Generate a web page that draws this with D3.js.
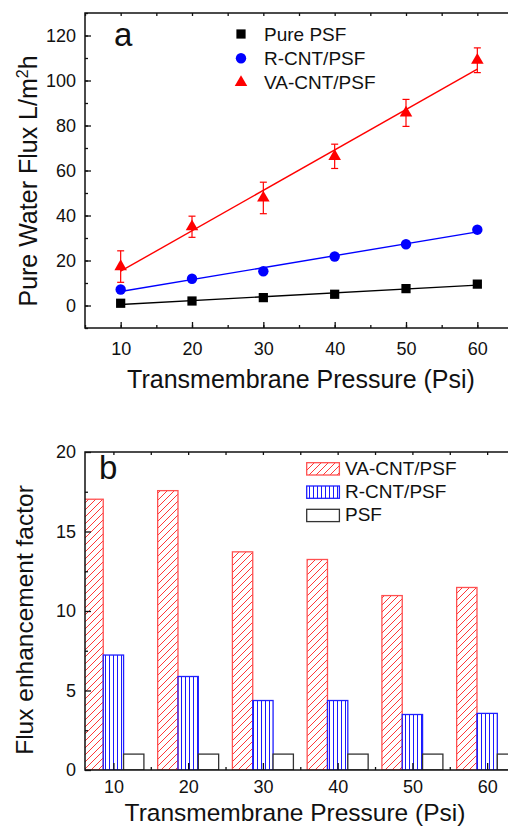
<!DOCTYPE html>
<html>
<head>
<meta charset="utf-8">
<script src="https://cdn.jsdelivr.net/npm/d3@7"></script>
<style>
  body { margin: 0; background: #fff; }
  svg { display: block; font-family: "Liberation Sans", Arial, sans-serif; }
</style>
</head>
<body>
<div id="chart"></div>
<script>
var width = 508,
    height = 829;

// panel a: pure water flux vs pressure
var pressures = [10, 20, 30, 40, 50, 60];
var purePSF = [1, 2, 3.5, 5, 7.5, 9.5];
var rCNT = [7.1, 11.9, 15.2, 21.8, 27.2, 33.7];
var vaCNT = [17.3, 35, 47.8, 66.3, 85.6, 109];
var vaErr = [7, 4.7, 7, 5.4, 6, 5.5];
var fluxTicks = [0, 20, 40, 60, 80, 100, 120];

// panel b: flux enhancement factor
var vaFactor = [17.03, 17.57, 13.72, 13.24, 10.97, 11.48];
var rFactor = [7.23, 5.88, 4.37, 4.37, 3.49, 3.56];
var psfFactor = [1, 1, 1, 1, 1, 1];
var factorTicks = [0, 5, 10, 15, 20];

var svg = d3.select("#chart").append("svg")
    .attr("width", width)
    .attr("height", height);

var defs = svg.append("defs");

var diag = defs.append("pattern")
    .attr("id", "diag")
    .attr("patternUnits", "userSpaceOnUse")
    .attr("width", 7).attr("height", 7);
diag.append("path")
    .attr("d", "M-1,8 L8,-1 M-1,1 L1,-1 M6,8 L8,6")
    .attr("stroke", "#ff2020").attr("stroke-width", 0.9);

var vert = defs.append("pattern")
    .attr("id", "vert")
    .attr("patternUnits", "userSpaceOnUse")
    .attr("width", 4).attr("height", 4);
vert.append("rect")
    .attr("x", 1).attr("y", 0).attr("width", 1).attr("height", 4)
    .attr("fill", "#1a1aff");

// simple least squares fit for the straight lines
function fit(xs, ys) {
    var mx = d3.mean(xs), my = d3.mean(ys);
    var sxy = d3.sum(xs, function(x, i) { return (x - mx) * (ys[i] - my); });
    var sxx = d3.sum(xs, function(x) { return (x - mx) * (x - mx); });
    var b = sxy / sxx;
    return function(x) { return my + b * (x - mx); };
}

function styleAxis(g) {
    g.select(".domain").remove();
    g.selectAll("line").attr("stroke", "#111").attr("stroke-width", 1.3);
    g.selectAll("text").attr("fill", "#111").style("font-size", "18px");
}

/* ---------- panel a ---------- */
var a = { left: 85, top: 13, bottom: 328, right: 513 };

var xA = d3.scaleLinear().domain([5, 65]).range([a.left, a.right]);
var yA = d3.scaleLinear().domain([-10, 130]).range([a.bottom, a.top]);

var gA = svg.append("g");

gA.append("g")
    .attr("transform", "translate(0," + a.bottom + ")")
    .call(d3.axisBottom(xA).tickValues(d3.range(5, 66, 5)).tickSize(-3).tickFormat(""))
    .call(styleAxis);
gA.append("g")
    .attr("transform", "translate(0," + a.bottom + ")")
    .call(d3.axisBottom(xA).tickValues(pressures).tickSize(-6).tickPadding(14))
    .call(styleAxis);
gA.append("g")
    .attr("transform", "translate(0," + a.top + ")")
    .call(d3.axisTop(xA).tickValues(d3.range(5, 66, 5)).tickSize(-3).tickFormat(""))
    .call(styleAxis);
gA.append("g")
    .attr("transform", "translate(" + a.left + ",0)")
    .call(d3.axisLeft(yA).tickValues(d3.range(-10, 131, 10)).tickSize(-3).tickFormat(""))
    .call(styleAxis);
gA.append("g")
    .attr("transform", "translate(" + a.left + ",0)")
    .call(d3.axisLeft(yA).tickValues(fluxTicks).tickSize(-6).tickPadding(9))
    .call(styleAxis);

gA.append("rect")
    .attr("x", a.left).attr("y", a.top)
    .attr("width", a.right - a.left).attr("height", a.bottom - a.top)
    .attr("fill", "none").attr("stroke", "#111").attr("stroke-width", 1.5);

var seriesA = [
    { name: "Pure PSF", values: purePSF, color: "#000", symbol: d3.symbolSquare, size: 85 },
    { name: "R-CNT/PSF", values: rCNT, color: "#0000ff", symbol: d3.symbolCircle, size: 85 },
    { name: "VA-CNT/PSF", values: vaCNT, color: "#ff0000", symbol: d3.symbolTriangle, size: 68 }
];

seriesA.forEach(function(s) {
    var f = fit(pressures, s.values);
    gA.append("line")
        .attr("x1", xA(10)).attr("y1", yA(f(10)))
        .attr("x2", xA(60)).attr("y2", yA(f(60)))
        .attr("stroke", s.color).attr("stroke-width", 1.4);
});

// error bars on VA-CNT/PSF
var errG = gA.append("g").attr("stroke", "#ff0000").attr("stroke-width", 1.2);
pressures.forEach(function(p, i) {
    var x = xA(p), y1 = yA(vaCNT[i] - vaErr[i]), y2 = yA(vaCNT[i] + vaErr[i]);
    errG.append("line").attr("x1", x).attr("x2", x).attr("y1", y1).attr("y2", y2);
    errG.append("line").attr("x1", x - 3.5).attr("x2", x + 3.5).attr("y1", y1).attr("y2", y1);
    errG.append("line").attr("x1", x - 3.5).attr("x2", x + 3.5).attr("y1", y2).attr("y2", y2);
});

seriesA.forEach(function(s) {
    gA.selectAll(null)
        .data(s.values)
        .enter()
        .append("path")
        .attr("d", d3.symbol().type(s.symbol).size(s.size))
        .attr("transform", function(d, i) {
            return "translate(" + xA(pressures[i]) + "," + yA(d) + ")";
        })
        .attr("fill", s.color);
});

// legend a
seriesA.forEach(function(s, i) {
    var ly = 34 + i * 24.2;
    gA.append("path")
        .attr("d", d3.symbol().type(s.symbol).size(s.size))
        .attr("transform", "translate(241," + ly + ")")
        .attr("fill", s.color);
    gA.append("text")
        .attr("x", 264).attr("y", ly + 7)
        .style("font-size", "19px").attr("fill", "#111")
        .text(s.name);
});

gA.append("text")
    .attr("x", 114).attr("y", 45.5)
    .style("font-size", "33px").attr("fill", "#111")
    .text("a");

gA.append("text")
    .attr("transform", "translate(37,181) rotate(-90)")
    .attr("text-anchor", "middle")
    .style("font-size", "25px").attr("fill", "#111")
    .html("Pure Water Flux L/m<tspan dy='-9' style='font-size:16px'>2</tspan><tspan dy='9'>h</tspan>");

gA.append("text")
    .attr("x", 301).attr("y", 388)
    .attr("text-anchor", "middle")
    .style("font-size", "25px").attr("fill", "#111")
    .text("Transmembrane Pressure (Psi)");

/* ---------- panel b ---------- */
var b = { left: 85, top: 452, bottom: 770, right: 532 };

var xB = d3.scaleLinear().domain([6.2, 66]).range([b.left, b.right]);
var yB = d3.scaleLinear().domain([0, 20]).range([b.bottom, b.top]);
var barW = 2.72;

var gB = svg.append("g");

defs.append("clipPath").attr("id", "clipB")
    .append("rect")
    .attr("x", b.left).attr("y", b.top)
    .attr("width", b.right - b.left).attr("height", b.bottom - b.top);

var barsB = gB.append("g").attr("clip-path", "url(#clipB)");

var seriesB = [
    { name: "VA-CNT/PSF", values: vaFactor, fill: "url(#diag)", stroke: "#ff5050", offset: -1 },
    { name: "R-CNT/PSF", values: rFactor, fill: "url(#vert)", stroke: "#2020ff", offset: 0 },
    { name: "PSF", values: psfFactor, fill: "#fff", stroke: "#333", offset: 1 }
];

seriesB.forEach(function(s) {
    barsB.selectAll(null)
        .data(s.values)
        .enter()
        .append("rect")
        .attr("x", function(d, i) { return xB(pressures[i] + (s.offset - 0.5) * barW); })
        .attr("width", xB(barW) - xB(0))
        .attr("y", function(d) { return yB(d); })
        .attr("height", function(d) { return yB(0) - yB(d); })
        .attr("fill", s.fill)
        .attr("stroke", s.stroke)
        .attr("stroke-width", 1.3);
});

gB.append("g")
    .attr("transform", "translate(0," + b.bottom + ")")
    .call(d3.axisBottom(xB).tickValues(d3.range(15, 66, 10)).tickSize(-3).tickFormat(""))
    .call(styleAxis);
gB.append("g")
    .attr("transform", "translate(0," + b.bottom + ")")
    .call(d3.axisBottom(xB).tickValues(pressures).tickSize(-7).tickPadding(10))
    .call(styleAxis);
gB.append("g")
    .attr("transform", "translate(0," + b.top + ")")
    .call(d3.axisTop(xB).tickValues(d3.range(10, 66, 5)).tickSize(-3).tickFormat(""))
    .call(styleAxis);
gB.append("g")
    .attr("transform", "translate(" + b.left + ",0)")
    .call(d3.axisLeft(yB).tickValues(d3.range(2.5, 20, 5)).tickSize(-3).tickFormat(""))
    .call(styleAxis);
gB.append("g")
    .attr("transform", "translate(" + b.left + ",0)")
    .call(d3.axisLeft(yB).tickValues(factorTicks).tickSize(-6).tickPadding(9))
    .call(styleAxis);

gB.append("rect")
    .attr("x", b.left).attr("y", b.top)
    .attr("width", b.right - b.left).attr("height", b.bottom - b.top)
    .attr("fill", "none").attr("stroke", "#111").attr("stroke-width", 1.5);

// legend b
seriesB.forEach(function(s, i) {
    var ly = 462.7 + i * 23.3;
    gB.append("rect")
        .attr("x", 306.7).attr("y", ly)
        .attr("width", 32.7).attr("height", 12.3)
        .attr("fill", s.fill).attr("stroke", s.stroke).attr("stroke-width", 1.3);
    gB.append("text")
        .attr("x", 345).attr("y", ly + 12)
        .style("font-size", "19px").attr("fill", "#111")
        .text(s.name);
});

gB.append("text")
    .attr("x", 99).attr("y", 479)
    .style("font-size", "33px").attr("fill", "#111")
    .text("b");

gB.append("text")
    .attr("transform", "translate(33,620) rotate(-90)")
    .attr("text-anchor", "middle")
    .style("font-size", "24.5px").attr("fill", "#111")
    .text("Flux enhancement factor");

gB.append("text")
    .attr("x", 295).attr("y", 821)
    .attr("text-anchor", "middle")
    .style("font-size", "24.5px").attr("fill", "#111")
    .text("Transmembrane Pressure (Psi)");
</script>
</body>
</html>
